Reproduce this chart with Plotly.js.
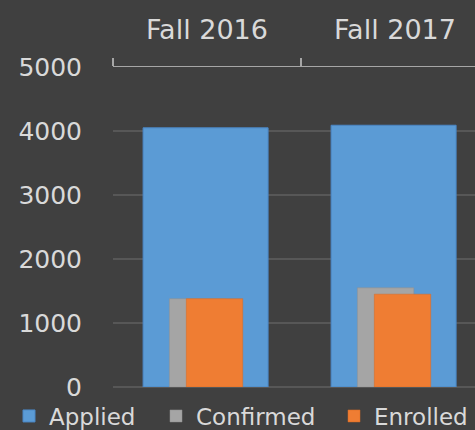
<!DOCTYPE html>
<html>
<head>
<meta charset="utf-8">
<script src="https://cdn.plot.ly/plotly-3.0.1.min.js"></script>
<style>html,body{margin:0;padding:0;background:#404040;}#chart{width:475px;height:430px;}</style>
</head>
<body>
<div id="chart"></div>
<script>
const categories = ["Fall 2016", "Fall 2017"];
const applied = [4050, 4090];
const confirmed = [1380, 1550];
const enrolled = [1380, 1450];
const yTicks = [0, 1000, 2000, 3000, 4000, 5000];

const font = "DejaVu Sans, Verdana, sans-serif";
const traces = [
  {type: "bar", name: "Applied", x: categories, y: applied, width: 0.665, offset: -0.34,
   legend: "legend",
   marker: {color: "#5b9bd5", line: {color: "#4a86c5", width: 1}}},
  {type: "bar", name: "Confirmed", x: categories, y: confirmed, width: 0.30, offset: -0.20,
   legend: "legend2",
   marker: {color: "#a5a5a5", line: {color: "#909090", width: 0.5}}},
  {type: "bar", name: "Enrolled", x: categories, y: enrolled, width: 0.30, offset: -0.11,
   legend: "legend3",
   marker: {color: "#ef7d33", line: {color: "#d96a22", width: 0.5}}}
];

function legendAt(xpx) {
  return {
    orientation: "h", xref: "container", yref: "container",
    x: xpx / 475, y: 14 / 430, xanchor: "left", yanchor: "middle",
    font: {size: 23, color: "#d9d9d9", family: font},
    bgcolor: "rgba(0,0,0,0)", itemclick: false
  };
}

const layout = {
  width: 475, height: 430,
  paper_bgcolor: "#404040", plot_bgcolor: "#404040",
  margin: {l: 113, r: 0, t: 67, b: 43, autoexpand: false},
  barmode: "overlay",
  showlegend: true,
  font: {family: font, color: "#d9d9d9"},
  xaxis: {
    type: "category", side: "top", range: [-0.5, 1.4255],
    showline: true, linecolor: "#a6a6a6", linewidth: 1.5,
    ticks: "outside", tickson: "boundaries", ticklen: 8, tickcolor: "#a6a6a6", tickwidth: 1.5,
    showgrid: false, ticklabelstandoff: 16,
    tickfont: {size: 27, color: "#d9d9d9", family: font}
  },
  yaxis: {
    range: [0, 5000], tickvals: yTicks, ticktext: yTicks.map(String),
    showgrid: true, gridcolor: "#575757", gridwidth: 1.5,
    zeroline: true, zerolinecolor: "#575757", zerolinewidth: 1.5,
    showline: false, ticks: "", ticklabelstandoff: 30,
    tickfont: {size: 25, color: "#d9d9d9", family: font}
  },
  legend: legendAt(9),
  legend2: legendAt(156),
  legend3: legendAt(334)
};

Plotly.newPlot("chart", traces, layout, {displayModeBar: false, staticPlot: true});
</script>
</body>
</html>
